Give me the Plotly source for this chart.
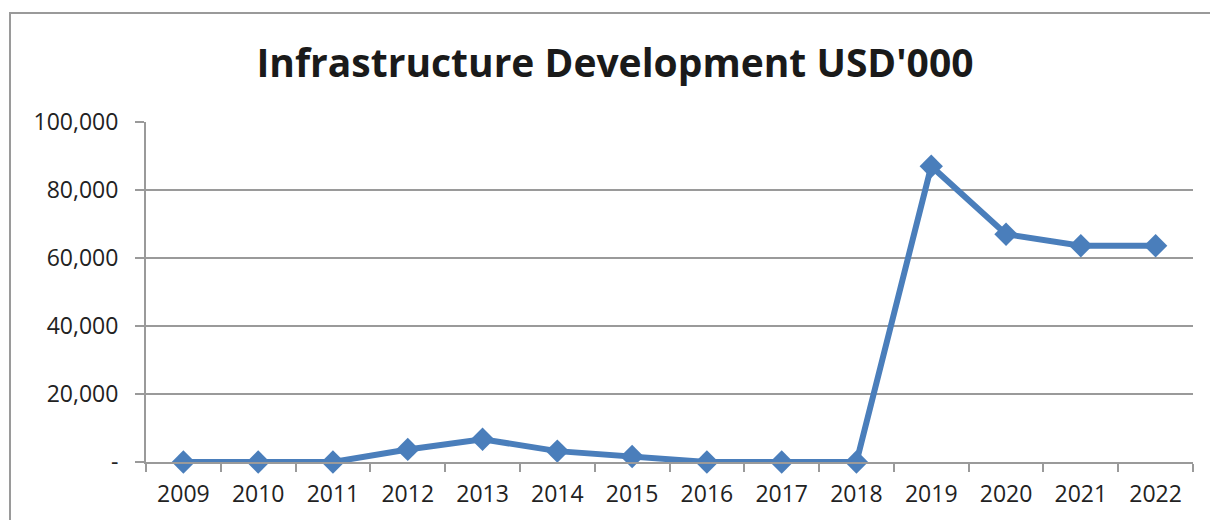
import plotly.graph_objects as go

# Annual infrastructure development spend (USD '000)
years = ["2009", "2010", "2011", "2012", "2013", "2014", "2015",
         "2016", "2017", "2018", "2019", "2020", "2021", "2022"]
spend = [0, 0, 0, 3700, 6700, 3200, 1600, 0, 0, 0, 87000, 67000, 63600, 63600]

y_ticks = [0, 20000, 40000, 60000, 80000, 100000]
y_tick_text = ["-", "20,000", "40,000", "60,000", "80,000", "100,000"]

W, H = 1210, 520
L, R, T, B = 146, 17, 122, 58
pw, ph = W - L - R, H - T - B

blue = "#4a7ebb"
grey = "#9a9a9a"
font = "Open Sans"

fig = go.Figure()
fig.add_trace(go.Scatter(
    x=years, y=spend, mode="lines+markers",
    line=dict(color=blue, width=6),
    marker=dict(symbol="diamond", size=18, color=blue),
    cliponaxis=False, showlegend=False,
))

fig.update_layout(
    width=W, height=H,
    margin=dict(l=L, r=R, t=T, b=B),
    paper_bgcolor="white", plot_bgcolor="white",
    font=dict(family=font, size=23, color="#222222"),
    title=dict(
        text="<b>Infrastructure Development USD'000</b>",
        x=615 / W, xref="container", xanchor="center",
        y=1 - 63 / H, yref="container", yanchor="middle",
        font=dict(family=font, size=39, color="#1a1a1a"),
    ),
    xaxis=dict(
        type="category", tickson="boundaries",
        range=[-0.5, len(years) - 0.5], autorange=False,
        ticks="outside", ticklen=8, tickcolor=grey, tickwidth=2,
        showline=True, linecolor=grey, linewidth=2,
        showgrid=False, zeroline=False,
        tickfont=dict(size=23), ticklabelstandoff=10,
    ),
    yaxis=dict(
        range=[0, 100000], autorange=False,
        tickvals=y_ticks, ticktext=y_tick_text,
        ticks="outside", ticklen=9, tickcolor=grey, tickwidth=2,
        showline=True, linecolor=grey, linewidth=2,
        showgrid=True, gridcolor=grey, gridwidth=2,
        zeroline=False, tickfont=dict(size=23), ticklabelstandoff=12,
    ),
)

# Chart frame (left and top edges visible within the page)
fig.add_shape(
    type="rect", xref="paper", yref="paper",
    x0=(10 - L) / pw, x1=(W + 20 - L) / pw,
    y0=-(H + 20 - T - ph) / ph, y1=(T + ph - 13) / ph,
    line=dict(color=grey, width=2), fillcolor="rgba(0,0,0,0)", layer="below",
)

fig.write_html("out.html")
